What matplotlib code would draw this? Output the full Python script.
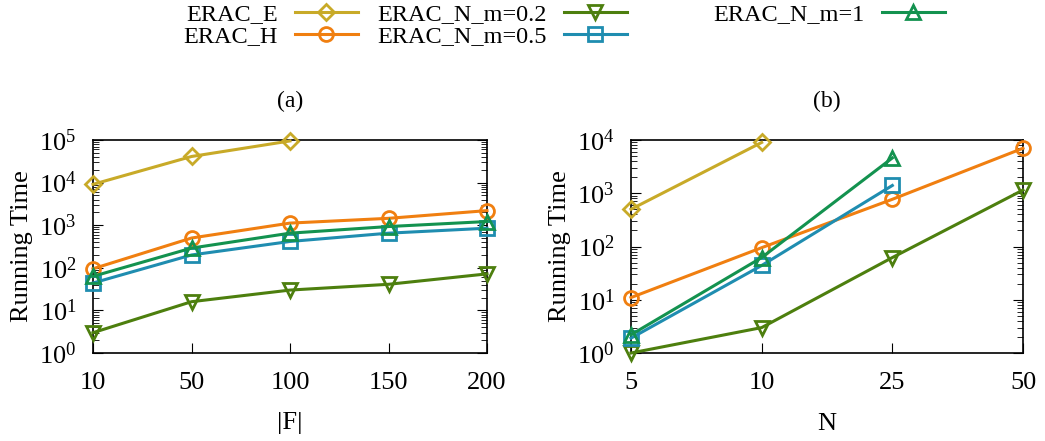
import matplotlib
matplotlib.use("Agg")
import matplotlib.pyplot as plt
import matplotlib.ticker as mticker
import numpy as np

plt.rcParams['font.family'] = ['Liberation Serif', 'DejaVu Serif']
plt.rcParams['mathtext.fontset'] = 'custom'
plt.rcParams['mathtext.rm'] = 'Liberation Serif'
plt.rcParams['mathtext.it'] = 'Liberation Serif:italic'

# (a) running time vs |F|
f_labels = ['10', '50', '100', '150', '200']
f_erac_e = [9100, 41000, 95000]
f_erac_h = [95, 500, 1120, 1450, 2200]
f_m02 = [3, 16, 30, 41, 72]
f_m05 = [44, 200, 415, 650, 850]
f_m1 = [63, 290, 650, 930, 1220]

# (b) running time vs N
n_labels = ['5', '10', '25', '50']
n_erac_e = [500, 9000]
n_erac_h = [11, 95, 770, 7000]
n_m02 = [1.0, 3, 62, 1150]
n_m05 = [1.9, 44, 1400]
n_m1 = [2.2, 62, 4600]

names = ['ERAC_E', 'ERAC_H', 'ERAC_N_m=0.2', 'ERAC_N_m=0.5', 'ERAC_N_m=1']
colors = ['#c8aa28', '#f07f10', '#4d7f0e', '#1f8db0', '#13924f']
markers = ['D', 'o', 'v', 's', '^']
msizes = [8.5, 10, 10, 9.5, 10]

fig = plt.figure(figsize=(10.45, 4.41), dpi=100)
ax1 = fig.add_axes([93 / 1045, 1 - 353 / 441, (487 - 93) / 1045, (353 - 140) / 441])
ax2 = fig.add_axes([631 / 1045, 1 - 353 / 441, (1023 - 631) / 1045, (353 - 140) / 441])


def draw(ax, labels, series, ymax, xlabel, title):
    for ys, c, m, ms, name in zip(series, colors, markers, msizes, names):
        ax.plot(np.arange(len(ys)), ys, color=c, marker=m, markersize=ms,
                markerfacecolor='none', markeredgewidth=2, linewidth=2.2,
                clip_on=False, label=name, zorder=3)
    ax.set_yscale('log')
    ax.set_ylim(1, ymax)
    ax.yaxis.set_major_locator(mticker.LogLocator(base=10, numticks=12))
    ax.yaxis.set_minor_locator(mticker.LogLocator(base=10, subs=np.arange(2, 10), numticks=12))
    ax.yaxis.set_minor_formatter(mticker.NullFormatter())
    ax.set_xlim(0, len(labels) - 1)
    ax.set_xticks(np.arange(len(labels)))
    ax.set_xticklabels(labels)
    ax.tick_params(axis='both', which='both', direction='in', labelsize=19)
    ax.tick_params(axis='y', which='both', right=True)
    ax.tick_params(axis='y', which='major', length=7, pad=12)
    ax.tick_params(axis='y', which='minor', length=4)
    ax.tick_params(axis='x', which='major', length=7, pad=14)
    ax.set_ylabel('Running Time', fontsize=19, labelpad=4)
    ax.set_xlabel(xlabel, fontsize=19, labelpad=13)
    ax.set_title(title, fontsize=17, pad=24)
    for s in ax.spines.values():
        s.set_linewidth(1.2)


draw(ax1, f_labels, [f_erac_e, f_erac_h, f_m02, f_m05, f_m1], 1e5, '|F|', '(a)')
draw(ax2, n_labels, [n_erac_e, n_erac_h, n_m02, n_m05, n_m1], 1e4, 'N', '(b)')

handles, labs = ax1.get_legend_handles_labels()
# one legend per column, like gnuplot's key: text right-aligned before sample
col_groups = [[0, 1], [2, 3], [4]]
col_right = [358, 627, 945]
for grp, xr in zip(col_groups, col_right):
    leg = fig.legend([handles[i] for i in grp], [labs[i] for i in grp],
                     loc='upper right', bbox_to_anchor=(xr / 1045, 0.993),
                     frameon=False, markerfirst=False, fontsize=17.5,
                     handlelength=2.6, labelspacing=0.0, handletextpad=0.7,
                     borderpad=0, borderaxespad=0)

fig.savefig('out.png', dpi=100)
